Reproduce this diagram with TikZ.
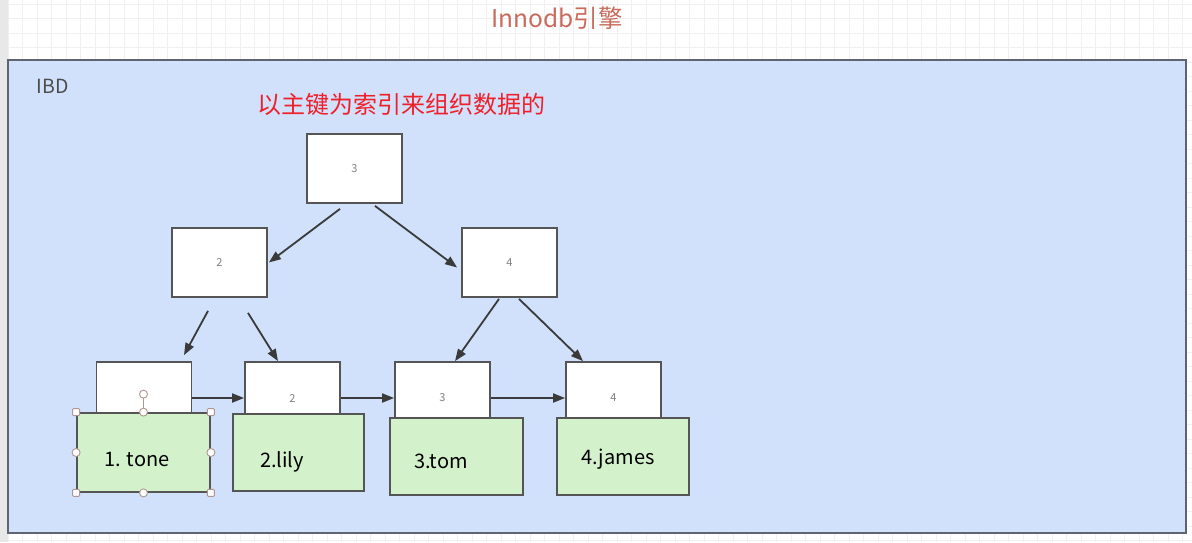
\documentclass[tikz,border=0pt]{standalone}
\usepackage{fontspec}
\setmainfont{Noto Sans CJK SC}
\usetikzlibrary{arrows.meta,calc}
\definecolor{bgblue}{HTML}{D1E1FB}
\definecolor{frame}{HTML}{5E6570}
\definecolor{boxline}{HTML}{555555}
\definecolor{leafgreen}{HTML}{D3F2CB}
\definecolor{titlecol}{HTML}{C96A5A}
\definecolor{redtext}{HTML}{F0202A}
\definecolor{arrcol}{HTML}{3A3A3A}
\definecolor{handle}{HTML}{B09590}
\tikzset{
  keybox/.style={draw=boxline, line width=1.8pt, fill=white, minimum width=95pt, minimum height=69pt, inner sep=0pt, font=\fontsize{11}{12}\selectfont, text=gray},
  leafbox/.style={keybox, minimum height=72pt},
  databox/.style={draw=boxline, line width=1.8pt, fill=leafgreen, inner sep=0pt, minimum height=77pt},
  datatext/.style={font=\fontsize{20}{22}\selectfont, text=black, inner sep=0pt},
  arr/.style={draw=arrcol, line width=1.8pt, -{Triangle[length=12pt,width=9pt]}},
  hsq/.style={draw=handle, fill=white, line width=0.9pt, minimum size=7pt, inner sep=0pt, rounded corners=1pt},
  hci/.style={draw=handle, fill=white, line width=0.9pt, circle, minimum size=8pt, inner sep=0pt}
}
\begin{document}
\begin{tikzpicture}[x=1pt,y=-1pt]
\useasboundingbox (0,0) rectangle (1192,542);
\fill[white] (0,0) rectangle (1192,542);
% faint grid
\foreach \i in {0,...,82} {\draw[gray!12, line width=0.6pt] (8+\i*14.5,0) -- (8+\i*14.5,542);}
\foreach \j in {0,...,37} {\draw[gray!12, line width=0.6pt] (0,4+\j*14.5) -- (1192,4+\j*14.5);}
\fill[gray!18] (0,0) rectangle (8,542);
% outer frame
\node[draw=frame, line width=2pt, fill=bgblue, minimum width=1178pt, minimum height=473pt, inner sep=0pt] (ibd) at (597,296.5) {};
\node[font=\fontsize{24.5}{27}\selectfont, text=titlecol, inner sep=0pt] (title) at (557,18) {Innodb引擎};
\node[font=\fontsize{19.5}{21}\selectfont, text=black!70, inner sep=0pt] (ibdlabel) at (52.5,86) {IBD};
\node[font=\fontsize{24}{27}\selectfont, text=redtext, inner sep=0pt] (note) at (401.5,104) {以主键为索引来组织数据的};
% tree
\node[keybox] (n3) at (354.5,168.5) {3};
\node[keybox] (n2) at (219.5,262.5) {2};
\node[keybox] (n4) at (509.5,262.5) {4};
\node[leafbox] (l1) at (144,398) {};
\node[leafbox] (l2) at (292.5,398) {2};
\node[leafbox] (l3) at (442.5,398) {3};
\node[leafbox] (l4) at (613.5,398) {4};
% tree arrows
\draw[arr] ($(n3.south)+(-14.5,5)$) -- ($(n2.east)+(1,0)$);
\draw[arr] ($(n3.south)+(20.5,2)$) -- ($(n4.west)+(-4,5)$);
\draw[arr] ($(n2.south)+(-11.5,13)$) -- ($(l1.north)+(40,-6)$);
\draw[arr] ($(n2.south)+(28.5,15)$) -- ($(l2.north)+(-14.5,0)$);
\draw[arr] ($(n4.south)+(-10.5,1)$) -- ($(l3.north)+(12.5,0)$);
\draw[arr] ($(n4.south)+(9.5,1)$) -- ($(l4.north)+(-30.5,0)$);
% leaf chain
\draw[arr] (l1.east) -- (l2.west);
\draw[arr] (l2.east) -- (l3.west);
\draw[arr] (l3.east) -- (l4.west);
% data boxes
\node[databox, minimum width=133pt, minimum height=79pt] (g1) at (143.5,452.5) {};
\node[databox, minimum width=131pt] (g2) at (298.5,452.5) {};
\node[databox, minimum width=133pt] (g3) at (456.5,456.5) {};
\node[databox, minimum width=132pt] (g4) at (623,456.5) {};
\node[datatext] (t1) at (137,459) {1. tone};
\node[datatext] (t2) at (282,462) {2.lily};
\node[datatext] (t3) at (441,461) {3.tom};
\node[datatext] (t4) at (618,459) {4.james};
% selection handles on g1
\draw[handle, line width=0.9pt] (g1.north) -- ($(g1.north)+(0,-14)$);
\node[hci] (hrot) at ($(g1.north)+(0,-18)$) {};
\node[hsq] (hnw) at (g1.north west) {};
\node[hsq] (hne) at (g1.north east) {};
\node[hsq] (hsw) at (g1.south west) {};
\node[hsq] (hse) at (g1.south east) {};
\node[hci] (hn) at (g1.north) {};
\node[hci] (hs) at (g1.south) {};
\node[hci] (hw) at (g1.west) {};
\node[hci] (he) at (g1.east) {};
\end{tikzpicture}
\end{document}
